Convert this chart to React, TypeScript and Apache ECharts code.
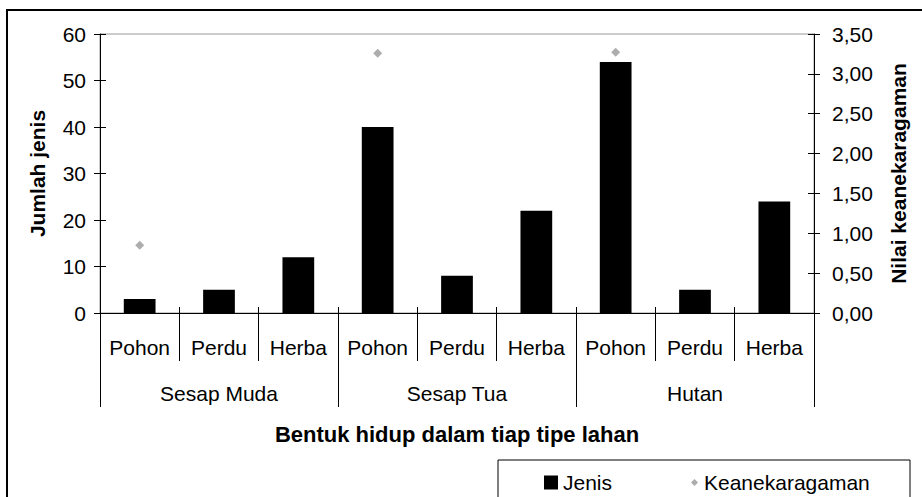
import React, { useEffect, useRef } from "react";
import * as echarts from "echarts";

const subCategories = ["Pohon", "Perdu", "Herba", "Pohon", "Perdu", "Herba", "Pohon", "Perdu", "Herba"];
const groups = ["Sesap Muda", "Sesap Tua", "Hutan"];
const jenisValues = [3, 5, 12, 40, 8, 22, 54, 5, 24];
const keanekaragamanValues: (number | null)[] = [0.85, null, null, 3.26, null, null, 3.27, null, null];
const leftTicks = { min: 0, max: 60, interval: 10 };
const rightTicks = { min: 0, max: 3.5, interval: 0.5 };

const FONT = "Liberation Sans, Arial, sans-serif";
const FS = 21;

export default function App() {
  const ref = useRef<HTMLDivElement>(null);
  useEffect(() => {
    document.body.style.margin = "0";
    const chart = echarts.init(ref.current!, undefined, { renderer: "svg" });
    const lineStyle = { color: "#000", width: 1 };
    const option: any = {
      animation: false,
      backgroundColor: "#fff",
      textStyle: { fontFamily: FONT },
      grid: { left: 100, right: 108, top: 34, bottom: 184, show: true, borderColor: "#999", borderWidth: 1 },
      graphic: [
        { type: "rect", z: -10, shape: { x: 7, y: 10, width: 960, height: 520 }, style: { fill: "none", stroke: "#000", lineWidth: 2 } },
        { type: "rect", z: -10, shape: { x: 498, y: 460, width: 412, height: 60 }, style: { fill: "#fff", stroke: "#000", lineWidth: 1 } },
      ],
      legend: [
        {
          data: ["Jenis"], left: 539, top: 467, itemWidth: 14, itemHeight: 14, icon: "rect",
          textStyle: { fontSize: FS, color: "#000", fontFamily: FONT },
        },
        {
          data: ["Keanekaragaman"], left: 686, top: 467, itemWidth: 7, itemHeight: 7, icon: "diamond",
          textStyle: { fontSize: FS, color: "#000", fontFamily: FONT, padding: [0, 0, 0, 1] },
        },
      ],
      xAxis: [
        {
          type: "category", data: subCategories, position: "bottom",
          axisLine: { lineStyle },
          axisTick: { show: true, interval: 0, length: 48, lineStyle },
          axisLabel: { interval: 0, margin: 24, fontSize: FS, color: "#000", fontFamily: FONT },
          name: "Bentuk hidup dalam tiap tipe lahan", nameLocation: "middle", nameGap: 110,
          nameTextStyle: { fontSize: 22, fontWeight: "bold", color: "#000", fontFamily: FONT },
        },
        {
          type: "category", data: groups, position: "bottom",
          axisLine: { show: false },
          axisTick: { show: true, interval: 0, length: 94, lineStyle },
          axisLabel: { interval: 0, margin: 70, fontSize: FS, color: "#000", fontFamily: FONT },
        },
        {
          type: "category", data: subCategories, position: "bottom",
          axisLine: { show: false },
          axisTick: { show: true, interval: 0, inside: true, length: 6, lineStyle },
          axisLabel: { show: false },
        },
      ],
      yAxis: [
        {
          type: "value", position: "left", ...leftTicks,
          axisLine: { show: true, lineStyle },
          axisTick: { show: true, length: 6, lineStyle },
          splitLine: { show: false },
          axisLabel: { margin: 14, fontSize: FS, color: "#000", fontFamily: FONT },
          name: "Jumlah jenis", nameLocation: "middle", nameGap: 52,
          nameTextStyle: { fontSize: FS, fontWeight: "bold", color: "#000", fontFamily: FONT },
        },
        {
          type: "value", position: "right", ...rightTicks,
          axisLine: { show: true, lineStyle },
          axisTick: { show: true, length: 6, lineStyle },
          splitLine: { show: false },
          axisLabel: {
            margin: 18, fontSize: FS, color: "#000", fontFamily: FONT,
            formatter: (v: number) => v.toFixed(2).replace(".", ","),
          },
          name: "Nilai keanekaragaman", nameLocation: "middle", nameGap: 74,
          nameTextStyle: { fontSize: FS, fontWeight: "bold", color: "#000", fontFamily: FONT },
        },
        {
          type: "value", position: "left", ...leftTicks,
          axisLine: { show: false },
          axisTick: { show: true, inside: true, length: 6, lineStyle },
          splitLine: { show: false },
          axisLabel: { show: false },
        },
        {
          type: "value", position: "right", ...rightTicks,
          axisLine: { show: false },
          axisTick: { show: true, inside: true, length: 6, lineStyle },
          splitLine: { show: false },
          axisLabel: { show: false },
        },
      ],
      series: [
        {
          name: "Jenis", type: "bar", xAxisIndex: 0, yAxisIndex: 0, data: jenisValues,
          barWidth: "40%", itemStyle: { color: "#000" },
        },
        {
          name: "Keanekaragaman", type: "scatter", xAxisIndex: 0, yAxisIndex: 1, data: keanekaragamanValues,
          symbol: "diamond", symbolSize: 9, itemStyle: { color: "#999" },
        },
      ],
    };
    chart.setOption(option);
    return () => chart.dispose();
  }, []);
  return <div ref={ref} style={{ width: 922, height: 497 }} />;
}
